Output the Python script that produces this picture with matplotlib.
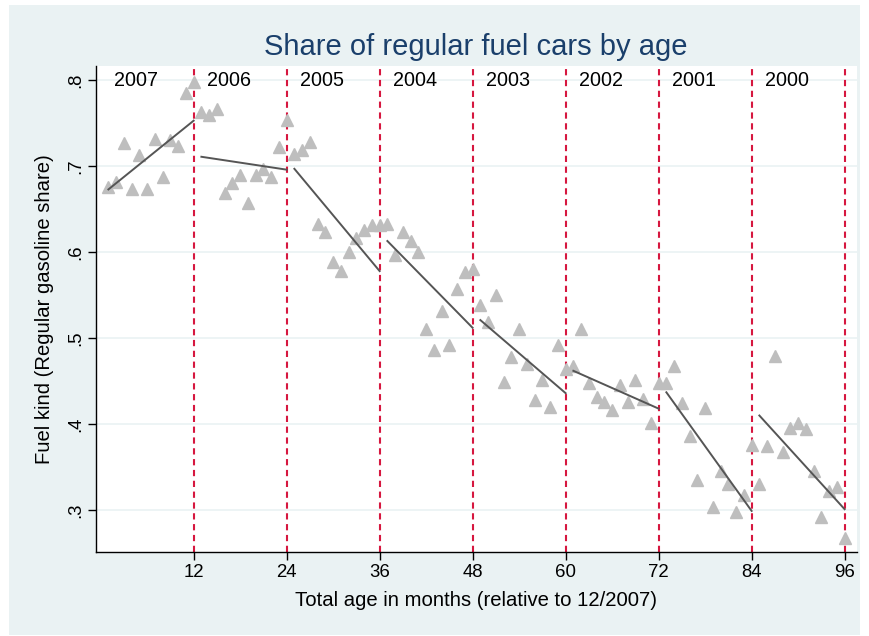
import numpy as np
import matplotlib
matplotlib.use("Agg")
import matplotlib.pyplot as plt
from matplotlib.patches import Rectangle

plt.rcParams['font.family'] = ['Liberation Sans', 'DejaVu Sans']

# share of regular fuel cars, by total age in months (1..96)
months = list(range(1, 97))
share = [
    0.676, 0.682, 0.727, 0.674, 0.713, 0.673, 0.732, 0.687, 0.730, 0.724, 0.785, 0.798,
    0.763, 0.760, 0.767, 0.669, 0.680, 0.690, 0.657, 0.690, 0.697, 0.688, 0.722, 0.754,
    0.714, 0.719, 0.728, 0.633, 0.624, 0.588, 0.578, 0.600, 0.616, 0.626, 0.632, 0.632,
    0.633, 0.597, 0.624, 0.613, 0.600, 0.511, 0.486, 0.531, 0.492, 0.557, 0.577, 0.580,
    0.538, 0.519, 0.550, 0.449, 0.478, 0.511, 0.470, 0.428, 0.451, 0.420, 0.492, 0.464,
    0.468, 0.511, 0.448, 0.432, 0.426, 0.416, 0.446, 0.426, 0.451, 0.429, 0.401, 0.448,
    0.448, 0.468, 0.425, 0.386, 0.335, 0.419, 0.304, 0.346, 0.330, 0.298, 0.317, 0.376,
    0.330, 0.374, 0.479, 0.367, 0.395, 0.401, 0.394, 0.345, 0.292, 0.322, 0.327, 0.268,
]

# linear fit per model year: start/end month and fitted value
years = ["2007", "2006", "2005", "2004", "2003", "2002", "2001", "2000"]
fit_x0 = [1, 13, 25, 37, 49, 61, 73, 85]
fit_x1 = [12, 24, 36, 48, 60, 72, 84, 96]
fit_y0 = [0.673, 0.711, 0.697, 0.613, 0.521, 0.462, 0.437, 0.410]
fit_y1 = [0.753, 0.696, 0.578, 0.512, 0.436, 0.418, 0.299, 0.301]

year_breaks = [12, 24, 36, 48, 60, 72, 84, 96]
yticks = [0.3, 0.4, 0.5, 0.6, 0.7, 0.8]
ytick_labels = [".3", ".4", ".5", ".6", ".7", ".8"]

bg = "#EAF2F3"
fig = plt.figure(figsize=(8.7, 6.36), dpi=100, facecolor="white")
fig.patches.append(Rectangle((9 / 870, 1 - 635 / 636), 851 / 870, 630 / 636,
                             transform=fig.transFigure, facecolor=bg,
                             edgecolor="none", zorder=-10))

ax = fig.add_axes([96 / 870, 1 - 552 / 636, 761 / 870, 486 / 636])
ax.set_facecolor("white")

for y in yticks:
    ax.axhline(y, color=bg, lw=1.2, zorder=0)

for xb in year_breaks:
    ax.axvline(xb, color="#D6173F", lw=1.5, ls=(0, (3, 2.2)), zorder=1)

ax.plot(months, share, ls="none", marker="^", ms=8, color="#BEBEBE",
        mec="#BEBEBE", zorder=2)

for x0, x1, y0, y1 in zip(fit_x0, fit_x1, fit_y0, fit_y1):
    ax.plot([x0, x1], [y0, y1], color="#555555", lw=1.4, zorder=3)

for i, yr in enumerate(years):
    ax.text(12 * i + 1.7, 0.8, yr, fontsize=14.2, ha="left", va="center", zorder=4)

ax.set_xlim(-0.6, 97.6)
ax.set_ylim(0.2512, 0.8166)
ax.set_xticks(year_breaks)
ax.set_xticklabels([str(v) for v in year_breaks], fontsize=13.4)
ax.set_yticks(yticks)
ax.set_yticklabels(ytick_labels, fontsize=13.4, rotation=90, va="center")
ax.tick_params(direction="out", length=5.6, width=1, color="black")
ax.tick_params(axis="x", pad=3)
ax.tick_params(axis="y", pad=3)

for s in ["top", "right"]:
    ax.spines[s].set_visible(False)
for s in ["left", "bottom"]:
    ax.spines[s].set_color("black")
    ax.spines[s].set_linewidth(1.0)

ax.set_xlabel("Total age in months (relative to 12/2007)", fontsize=14.6,
              va="baseline")
ax.xaxis.set_label_coords(0.5, (552 - 605.7) / 486)
ax.set_ylabel("Fuel kind (Regular gasoline share)", fontsize=14.6, va="center")
ax.yaxis.set_label_coords((45 - 96) / 761, 0.5)

fig.text(476 / 870, 1 - 55 / 636, "Share of regular fuel cars by age",
         fontsize=21, color="#1A3F6B", ha="center", va="baseline")

fig.savefig("out.png", dpi=100, facecolor="white")
